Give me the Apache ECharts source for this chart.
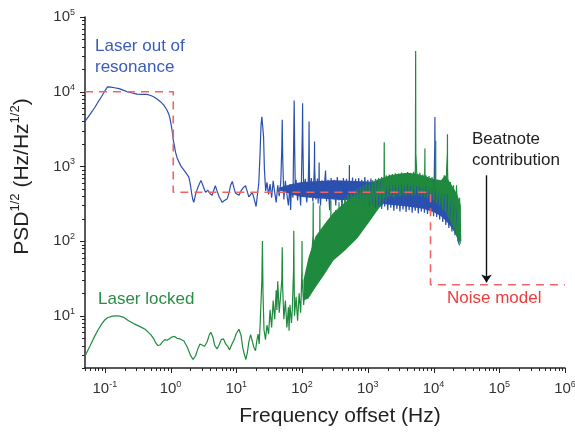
<!DOCTYPE html>
<html><head><meta charset="utf-8">
<script src="https://cdn.jsdelivr.net/npm/echarts@6/dist/echarts.min.js"></script>
<style>html,body{margin:0;padding:0;background:#fff}#c{width:575px;height:435px}</style>
</head><body><div id="c"></div>
<script>
const FONT = '"Liberation Sans", Arial, sans-serif';
const xTickExponents = [-1, 0, 1, 2, 3, 4, 5, 6];
const yTickExponents = [1, 2, 3, 4, 5];
const xRange = [0.05, 1e6];
const yRange = [2, 1e5];

// Laser out of resonance (blue) trace [Hz, Hz/Hz^1/2]
const blueData = [
[0.05,4000],[0.06,5000],[0.07,6100],[0.08,7400],[0.09,8700],[0.1,10200],[0.11,11600],[0.125,11500],[0.14,11300],[0.165,11000],[0.19,10500],[0.22,10000],[0.26,9600],[0.31,9300],[0.37,9200],[0.44,9200],[0.5,8900],[0.56,8500],[0.63,7900],[0.71,7300],[0.79,6600],[0.85,6000],[0.89,5600],[0.94,5000],[0.98,4400],[1.035,3400],[1.07,2800],[1.1,2250],[1.15,1850],[1.19,1550],[1.26,1300],[1.34,1150],[1.45,1000],[1.6,890],[1.75,800],[1.9,720],[2.0,580],[2.09,440],[2.18,360],[2.26,330],
[2.4,420],[2.6,520],[2.9,650],[3.1,560],[3.4,450],[3.7,480],[4.0,430],[4.3,410],[4.55,480],[4.8,550],[5.1,470],[5.5,390],[5.8,360],[6.1,330],[6.6,350],[7.3,370],[7.8,450],[8.2,560],[8.7,630],[9.2,520],[9.7,440],[10.3,420],[11,410],[11.8,470],[12.8,520],[13.8,550],[14.6,470],[15.5,390],[16.5,420],[17.5,450],[18.5,380],[19.3,330],[20,290],[21,420],[22,600],[23,1500],[23.8,3600],[24.5,4600],[25.3,4400],[26,2500],[26.8,900],
[28,470],[29.3,610],[31,420],[32.7,580],[34.5,380],[36.4,640],[38.4,450],[40.5,330],[42.7,560],[45,400],[47.5,620],[49.3,1800],[50,4200],[50.7,1500],[52.9,360],[55.8,640],[58.9,420],[62.1,300],[65.5,580],[67,260],[69.1,520],[72.9,380],[74.8,2500],[76,7600],[77.2,2000],[79,450],[81.2,660],[85.6,350],[90.3,600],[95.3,300],[98,640],[101,2800],[102,7000],[103,2200],[106,420],[112,680],[118,330],[124.5,600],[127,1500],[128,4000],[129,1300],[131,380],[138.5,700],[146,340],[151,620],[154,1000],[155,2150],[156,900],[162.5,360],[171.5,690],[176,320],[181,700],[182,1130],[183,650],[191,300],[201,650],[212,380],[224,720],[228,880],[236,340],[249,660],[263,260],[277,700],[293,380],[309,660],[326,300],[344,720],[363,350],[383,640],[404,280],[426,700],[449,340],[474,680],[500,360],[524,700],[525,1040],[526,600],[557,320],[587,710],[620,340],[654,680],[690,270],[728,700],[768,330],[810,660],[855,300],[902,720],[951,340],[1003,660],[1059,290],[1117,690],[1178,320],[1243,640],[1311,280],[1383,660],[1459,300],[1540,620],[1624,270],[1713,640],[1808,290],[1907,600],[2012,260],[2122,620],[2239,280],[2362,580],[2492,255],[2629,600],[2774,270],[2926,570],[3087,250],[3257,590],[3436,265],[3625,560],[3824,245],[4035,580],[4257,260],[4491,550],[4738,240],[4998,560],[5273,255],[5563,540],[5869,235],[6192,560],[6532,250],[6892,530],[7271,240],[7670,540],[8092,230],[8537,520],[9007,235],[9502,500],[10025,215],[10450,2000],[10500,4600],[10550,2000],[10576,480],[11158,210],[11771,470],[12419,195],[13102,460],[13822,180],[14582,440],[15384,165],[16231,430],[17123,150],[18065,400],[19059,135],[20107,380],[21213,120],[22379,340],[23610,100],[24909,88]
];
// dense noise core of the blue trace [Hz, low, high]
const blueBand = [
[45,480,520],[70,420,580],[100,390,620],[300,360,650],[1000,340,630],[2000,310,600],[4000,290,580],[7000,270,560],[10000,245,520],[13000,215,480],[16000,180,440],[19000,150,400],[22000,120,340],[24900,92,280]
];

// Laser locked (green) trace
const greenData = [
[0.05,2.9],[0.06,4.0],[0.07,5.3],[0.08,6.6],[0.09,7.8],[0.1,8.8],[0.11,9.4],[0.13,9.9],[0.16,10],[0.19,9.6],[0.23,8.6],[0.28,7.8],[0.35,7.1],[0.41,6.6],[0.46,6.0],[0.5,5.6],[0.55,5.0],[0.6,4.3],[0.64,4.0],[0.7,4.1],[0.76,4.5],[0.82,4.8],[0.89,4.7],[0.95,4.9],[1.05,5.2],[1.15,5.3],[1.25,5.0],[1.4,4.9],[1.6,4.6],[1.8,3.8],[2.0,3.0],[2.2,2.6],[2.4,2.9],[2.6,3.6],[2.8,4.2],[3.0,4.4],[3.3,3.9],[3.6,4.5],[3.9,5.6],[4.1,6.0],[4.4,5.2],[4.7,4.0],[5.1,3.6],[5.5,4.1],[5.9,4.8],[6.4,4.9],[6.9,4.2],[7.4,3.9],[7.9,3.5],[8.2,3.4],[8.7,4.3],[9.3,4.8],[10,5.8],[11,6.6],[11.8,5.5],[12.5,3.8],[13.2,3.1],[14,2.6],[14.8,3.3],[15.5,4.4],[16.5,5.6],[17.5,4.6],[18.5,3.8],[19.6,3.4],
[20.5,4.6],[21.5,5.7],[22.3,4.2],[23,7.3],[24.5,30],[25,100],[25.5,20],[26.4,6.5],[27.8,4.8],[29.3,7.5],[31,5.7],[32.7,12],[34.5,7],[36.4,16],[38.4,9],[40.5,22],[41.5,12],[42.7,29],[45,11],[47.5,20],[49.3,30],[50,83],[50.7,25],[52.9,9],[55.8,16],[58.9,7],[62.1,13],[63.5,6.3],[65.5,14],[69.1,8],[71,11.7],[74.3,40],[75,138],[75.7,35],[76.9,10],[81.2,18],[85.6,8.6],[90.3,20],[95.3,11],[98,24],[99.4,40],[100,100],[100.6,30],
[106,14],[112,32],[118,17],[124.5,42],[131,20],[138.5,55],[147,120],[148,330],[149,60],[154,26],[162.5,80],[171.5,33],[178,100],[183,38],[186,110],[187,300],[188,80],[191,42],[201,130],[212,45],[224,150],[236,52],[249,190],[263,58],[274,160],[275,350],[276,120],[277,62],[293,230],[309,70],[326,260],[344,76],[364,150],[365,330],[366,200],[383,88],[404,340],[426,95],[449,380],[474,100],[500,420],[528,105],[557,440],[587,115],[620,470],[654,125],[690,500],[728,140],[768,530],[810,160],[855,560],[902,180],[951,590],[1003,200],[1059,620],[1117,230],[1178,650],[1243,260],[1311,680],[1383,300],[1459,700],[1540,330],[1624,720],[1713,360],[1770,720],[1780,2100],[1790,720],[1808,380],[1907,760],[2012,390],[2122,780],[2239,400],[2362,790],[2492,380],[2629,810],[2774,410],[2926,800],[3087,390],[3257,830],[3436,420],[3625,810],[3824,400],[4035,840],[4257,420],[4491,820],[4738,400],[4998,850],[5273,430],[5320,2000],[5350,35000],[5380,1500],[5563,810],[5869,410],[6192,820],[6532,400],[6892,780],[7271,390],[7380,1200],[7400,1730],[7420,700],[7670,760],[8092,380],[8537,740],[9007,360],[9502,720],[10025,350],[10576,680],[10780,1200],[10800,2200],[10820,700],[11158,320],[11771,660],[12419,300],[13102,640],[13822,260],[14582,760],[15384,240],[15800,880],[16250,1500],[16300,2700],[16350,900],[17123,200],[18065,620],[19059,160],[20107,560],[21213,130],[22379,560],[23610,100],[24909,380],[26000,100]
];
// dense noise core of the green trace [Hz, low, high]
const greenBand = [
[105,16,30],[125,17,60],[160,24,115],[220,36,170],[300,55,240],[450,75,330],[700,110,440],[1000,170,560],[1500,280,680],[2200,380,760],[3000,400,800],[4000,410,820],[5500,410,800],[7500,380,740],[10000,350,680],[13000,290,650],[15000,250,760],[17000,200,650],[20000,150,520],[23000,110,420],[26000,90,300]
];

// Noise model (red dashed)
const noiseModel = [[0.05,1e4],[1.1,1e4],[1.1,450],[9000,450],[9000,26],[1e6,26]];
// Beatnote contribution arrow
const arrowFrom = [64000, 760];
const arrowTo = [64000, 28];

const BLUE = '#2b50ae', GREEN = '#1f8a3e', RED = '#f06464';

function isDecade(v) {
  const e = Math.log10(v); const r = Math.round(e);
  return Math.abs(e - r) < 1e-6 ? r : null;
}
function supLabel(v) {
  const r = isDecade(v);
  if (r === null) return '';
  return '{b|10}{s|' + (r < 0 ? '-' + (-r) : r) + '}';
}
const labelRich = {
  b: { fontSize: 15, lineHeight: 18, color: '#333', fontFamily: FONT },
  s: { fontSize: 9, lineHeight: 10, verticalAlign: 'top', color: '#333', fontFamily: FONT }
};

function bandRender(color) {
  return function (params, api) {
    if (params.dataIndexInside !== 0) return null;
    const n = params.dataInsideLength;
    const lo = [], up = [];
    for (let i = 0; i < n; i++) {
      const f = api.value(0, i);
      lo.push(api.coord([f, api.value(1, i)]));
      up.push(api.coord([f, api.value(2, i)]));
    }
    return { type: 'polygon', shape: { points: lo.concat(up.reverse()) }, style: { fill: color } };
  };
}

const chart = echarts.init(document.getElementById('c'), null, { renderer: 'canvas' });
chart.setOption({
  animation: false,
  backgroundColor: '#fff',
  grid: { left: 85, right: 10, top: 17, bottom: 67, containLabel: false, outerBoundsMode: 'none' },
  xAxis: {
    type: 'log', logBase: 10, min: xRange[0], max: xRange[1], splitNumber: 8,
    axisLine: { show: true, onZero: false, lineStyle: { color: '#222', width: 1.5 } },
    axisTick: { show: false }, splitLine: { show: false },
    axisLabel: { formatter: supLabel, margin: 12, rich: labelRich },
    name: 'Frequency offset (Hz)', nameLocation: 'middle', nameGap: 38,
    nameTextStyle: { fontSize: 21, color: '#222', fontFamily: FONT, padding: [0, 0, 0, 30] }
  },
  yAxis: {
    type: 'log', logBase: 10, min: yRange[0], max: yRange[1], splitNumber: 5,
    axisLine: { show: true, onZero: false, lineStyle: { color: '#222', width: 1.5 } },
    axisTick: { show: false }, splitLine: { show: false },
    axisLabel: { formatter: supLabel, margin: 10, rich: labelRich },
    name: '{a|PSD}{s|1/2}{a| (Hz/Hz}{s|1/2}{a|)}', nameLocation: 'middle', nameGap: 50, nameRotate: 90,
    nameTextStyle: {
      color: '#222', fontFamily: FONT, fontSize: 21, padding: [0, 0, 0, 32],
      rich: {
        a: { fontSize: 21, lineHeight: 26, color: '#222', fontFamily: FONT },
        s: { fontSize: 13, lineHeight: 14, verticalAlign: 'top', color: '#222', fontFamily: FONT }
      }
    }
  },
  series: [
    { type: 'custom', name: 'blueBand', data: blueBand, encode: { x: 0, y: [1, 2] }, renderItem: bandRender(BLUE), silent: true, clip: true },
    { type: 'line', name: 'Laser out of resonance', data: blueData, showSymbol: false, symbol: 'none', clip: true,
      lineStyle: { color: BLUE, width: 1.2, join: 'bevel' } },
    { type: 'custom', name: 'greenBand', data: greenBand, encode: { x: 0, y: [1, 2] }, renderItem: bandRender(GREEN), silent: true, clip: true },
    { type: 'line', name: 'Laser locked', data: greenData, showSymbol: false, symbol: 'none', clip: true,
      lineStyle: { color: GREEN, width: 1.2, join: 'bevel' } },
    { type: 'line', name: 'Noise model', data: noiseModel, showSymbol: false, symbol: 'none', clip: false,
      lineStyle: { color: RED, width: 1.6, type: [8, 6] },
      markLine: {
        silent: true, animation: false, label: { show: false },
        lineStyle: { color: '#111', width: 1.4, type: 'solid' },
        data: [[{ coord: arrowFrom, symbol: 'none' }, { coord: arrowTo, symbol: 'arrow', symbolSize: 8 }]]
      } }
  ]
});

function buildGraphics() {
  const g = [];
  const px = v => chart.convertToPixel({ xAxisIndex: 0 }, v);
  const py = v => chart.convertToPixel({ yAxisIndex: 0 }, v);
  const yb = py(yRange[0]);
  const xl = px(xRange[0]);
  const tickStyle = { stroke: '#222', lineWidth: 1 };
  const minE = Math.floor(Math.log10(xRange[0])), maxE = 6;
  for (let e = minE; e <= maxE; e++) {
    for (let m = 1; m <= 9; m++) {
      const v = m * Math.pow(10, e);
      if (v < xRange[0] * 0.9999 || v > xRange[1] * 1.0001) continue;
      const major = m === 1 && xTickExponents.indexOf(e) >= 0;
      const x = Math.round(px(v)) + 0.5;
      g.push({ type: 'line', silent: true, shape: { x1: x, y1: yb, x2: x, y2: yb + (major ? 5 : 3) }, style: tickStyle });
    }
  }
  for (let e = 0; e <= 5; e++) {
    for (let m = 1; m <= 9; m++) {
      const v = m * Math.pow(10, e);
      if (v < yRange[0] * 0.9999 || v > yRange[1] * 1.0001) continue;
      const major = m === 1 && yTickExponents.indexOf(e) >= 0;
      const y = Math.round(py(v)) + 0.5;
      g.push({ type: 'line', silent: true, shape: { x1: xl, y1: y, x2: xl - (major ? 5 : 3), y2: y }, style: tickStyle });
    }
  }
  const txt = (t, x, y, color) => ({ type: 'text', silent: true, x: x, y: y,
    style: { text: t, fill: color, fontSize: 17, fontFamily: FONT, verticalAlign: 'middle', align: 'left' } });
  g.push(txt('Laser out of', 95, 46, '#3a5bbd'));
  g.push(txt('resonance', 95, 67, '#3a5bbd'));
  g.push(txt('Laser locked', 98, 299, '#2a8c47'));
  g.push(txt('Beatnote', 472, 139, '#222'));
  g.push(txt('contribution', 472, 160, '#222'));
  g.push(txt('Noise model', 447, 298, '#ee3b3b'));
  chart.setOption({ graphic: { elements: g } });
}
buildGraphics();
</script>
</body></html>
